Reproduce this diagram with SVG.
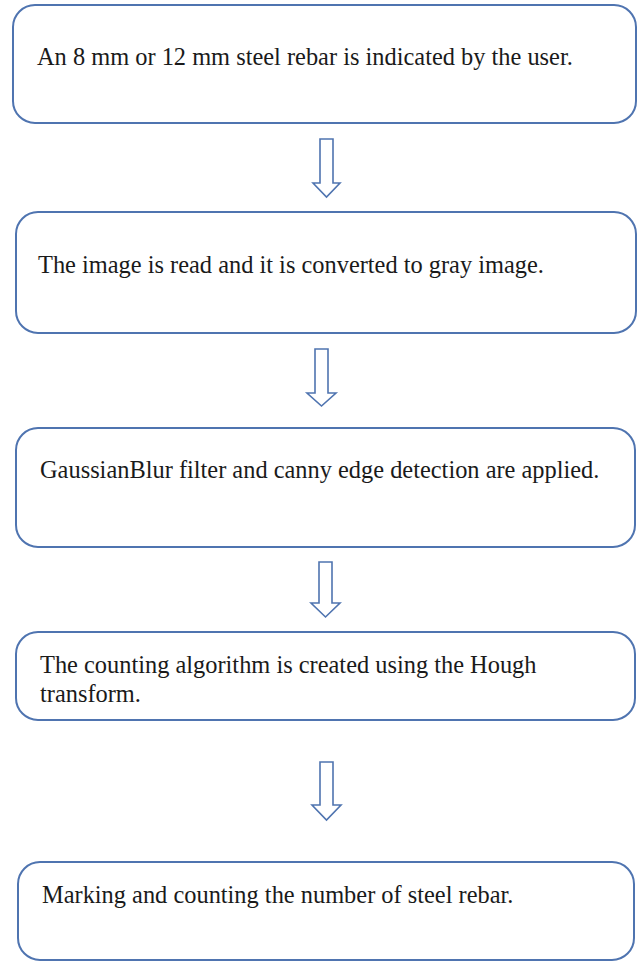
<svg xmlns="http://www.w3.org/2000/svg" width="639" height="963" viewBox="0 0 639 963">
<style>
.box{fill:#ffffff;stroke:#4f74b0;stroke-width:2}
.arrow{fill:#ffffff;stroke:#4f74b0;stroke-width:1.6;stroke-linejoin:miter}
.t{font-family:"Liberation Serif","Times New Roman",serif;font-size:24.4px;fill:#1a1a1a}
</style>
<rect width="639" height="963" fill="#ffffff"/>
<g id="connectors">
<path class="arrow" d="M320,139 H333 V183 H340 L326.5,197 L313,183 H320 Z"/>
<path class="arrow" d="M315,349 H328 V393 H336 L321.5,406 L307,393 H315 Z"/>
<path class="arrow" d="M319,562 H332 V603 H340 L325.5,617 L311,603 H319 Z"/>
<path class="arrow" d="M320,762 H333 V805 H341 L326.5,820 L312,805 H320 Z"/>
</g>
<g id="node1">
<rect class="box" x="13" y="5" width="623" height="118" rx="22"/>
<text class="t" x="37" y="65">An 8 mm or 12 mm steel rebar is indicated by the user.</text>
</g>
<g id="node2">
<rect class="box" x="16" y="212" width="620" height="121" rx="22"/>
<text class="t" x="38" y="273">The image is read and it is converted to gray image.</text>
</g>
<g id="node3">
<rect class="box" x="16" y="428" width="619" height="119" rx="22"/>
<text class="t" x="40" y="478">GaussianBlur filter and canny edge detection are applied.</text>
</g>
<g id="node4">
<rect class="box" x="16" y="632" width="619" height="88" rx="22"/>
<text class="t" x="40" y="673">The counting algorithm is created using the Hough</text>
<text class="t" x="40" y="702">transform.</text>
</g>
<g id="node5">
<rect class="box" x="18" y="862" width="616" height="98" rx="22"/>
<text class="t" x="42" y="903">Marking and counting the number of steel rebar.</text>
</g>
</svg>
